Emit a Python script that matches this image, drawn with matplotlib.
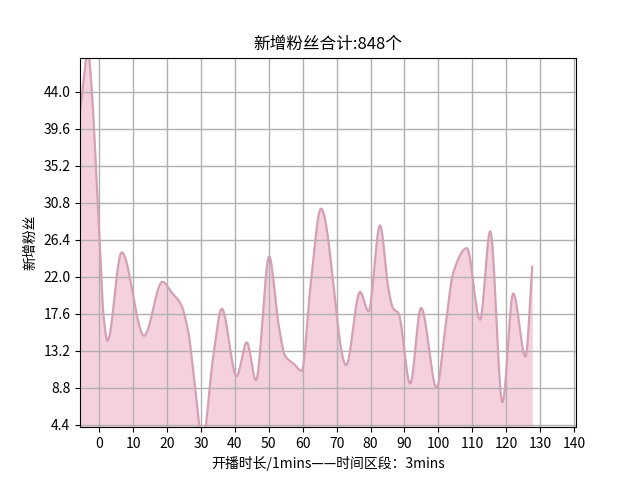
import numpy as np
import matplotlib
matplotlib.use("Agg")
import matplotlib.pyplot as plt

plt.rcParams['font.family'] = ['Noto Sans CJK SC', 'DejaVu Sans']
plt.rcParams['axes.unicode_minus'] = False

# values (minute, new fans)
minutes = [-5.6, -3.3, -2.2, -1.0, 0.1, 1.2, 2.4, 6.6, 13.2, 18.6, 21.4, 24.1, 26.3, 28.2,
           30.4, 33.6, 36.1, 40.5, 43.5, 46.2, 50.1, 52.8, 54.8, 57.5, 59.7, 62.2, 65.4,
           72.8, 76.9, 79.4, 82.8, 85.3, 86.7, 88.2, 91.7, 94.9, 99.5, 102.0, 104.4, 108.4,
           112.3, 115.3, 118.9, 122.1, 125.7, 127.7]
fans = [42.0, 48.6, 44.0, 35.2, 26.4, 17.6, 14.4, 24.9, 15.0, 21.4, 20.1, 18.7, 15.3, 9.0,
        2.5, 12.5, 18.2, 10.2, 14.2, 9.7, 24.4, 16.5, 12.6, 11.6, 10.8, 20.5, 30.1,
        11.5, 20.2, 17.9, 28.1, 20.5, 18.2, 17.7, 9.3, 18.3, 8.8, 15.7, 22.5, 25.4,
        16.9, 27.4, 7.1, 20.0, 12.5, 23.2]
yticks = [4.4, 8.8, 13.2, 17.6, 22.0, 26.4, 30.8, 35.2, 39.6, 44.0]
xticks = list(range(0, 141, 10))
total = 848


def pchip(x, y, xs):
    x = np.asarray(x, float)
    y = np.asarray(y, float)
    h = np.diff(x)
    d = np.diff(y) / h
    n = len(x)
    m = np.zeros(n)
    for k in range(1, n - 1):
        if d[k - 1] * d[k] <= 0:
            m[k] = 0.0
        else:
            w1 = 2 * h[k] + h[k - 1]
            w2 = h[k] + 2 * h[k - 1]
            m[k] = (w1 + w2) / (w1 / d[k - 1] + w2 / d[k])
    m[0] = d[0]
    m[-1] = d[-1]
    idx = np.clip(np.searchsorted(x, xs) - 1, 0, n - 2)
    t = (xs - x[idx]) / h[idx]
    h00 = 2 * t**3 - 3 * t**2 + 1
    h10 = t**3 - 2 * t**2 + t
    h01 = -2 * t**3 + 3 * t**2
    h11 = t**3 - t**2
    return h00 * y[idx] + h10 * h[idx] * m[idx] + h01 * y[idx + 1] + h11 * h[idx] * m[idx + 1]


xs = np.linspace(minutes[0], minutes[-1], 1500)
ys = pchip(minutes, fans, xs)

fig = plt.figure(figsize=(6.4, 4.8), dpi=100)
ax = fig.add_subplot(111)
ax.fill_between(xs, ys, 0, color='#f5d1de', linewidth=0)
ax.plot(xs, ys, color='#d4a0b5', linewidth=1.6)
ax.grid(True, color='#b0b0b0', linewidth=1.0)
ax.set_xlim(-5.7, 140.6)
ax.set_ylim(4.12, 48.05)
ax.set_xticks(xticks)
ax.set_yticks(yticks)
ax.set_yticklabels([f"{v:.1f}" for v in yticks])
ax.set_title(f"新增粉丝合计:{total}个", fontsize=12)
ax.set_xlabel("开播时长/1mins——时间区段：3mins")
ax.set_ylabel("新增粉丝")
fig.subplots_adjust(left=0.125, right=0.9, top=0.88, bottom=0.11)
fig.savefig("out.png", dpi=100)
